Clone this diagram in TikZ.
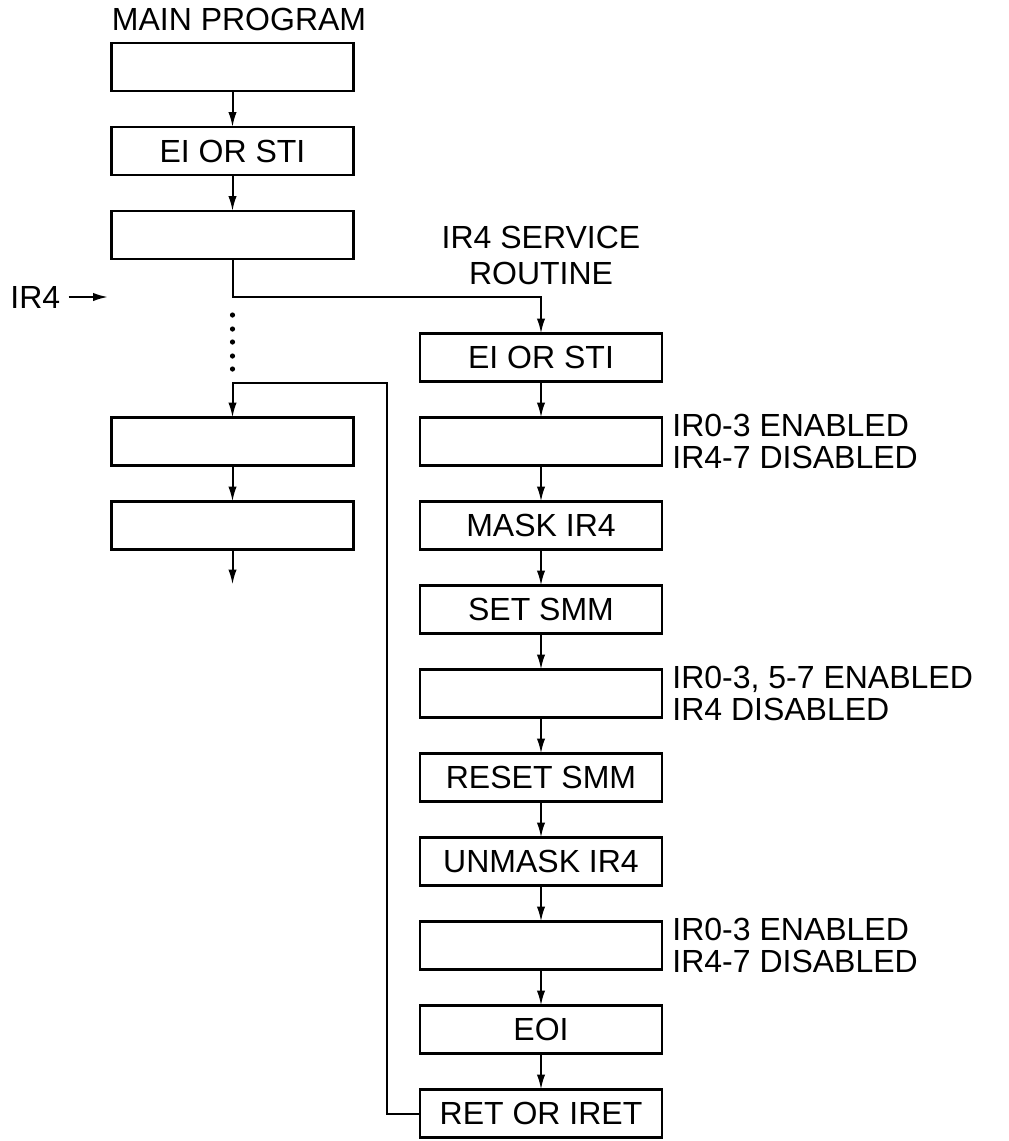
\documentclass[tikz,border=0pt]{standalone}
\usepackage{fontspec}
\setmainfont{Liberation Sans}
\usetikzlibrary{arrows.meta,positioning,calc}

\begin{document}
\begin{tikzpicture}[
  x=0.5pt,y=-0.5pt,
  font=\fontsize{16pt}{16pt}\selectfont,
  node distance=18pt and 5pt,
  box/.style={draw,line width=1.2pt,minimum width=121pt,minimum height=24pt,
    inner sep=0pt,outer sep=0pt,align=center},
  note/.style={align=left,inner sep=0pt},
  arrow/.style={-{Latex[length=7.5pt,width=4.2pt]},line width=1pt}
]
\useasboundingbox (0,0) rectangle (1008,1141);

% main program
\node[box] (m1) at (232.5,67) {};
\node[box,below=of m1] (m2) {EI OR STI};
\node[box,below=of m2] (m3) {};
\node[box] (m4) at (232.5,441.5) {};
\node[box,below=of m4] (m5) {};
\node[inner sep=0pt,above right=6pt and 0pt of m1.north west] (mainlbl) {MAIN PROGRAM};

% interrupt request
\node[inner sep=0pt,anchor=west] (irq) at (10,297) {IR4};
\coordinate (irqtip) at (108,297);

% service routine
\node[box] (s1) at (541,357.5) {EI OR STI};
\node[box,below=of s1] (s2) {};
\node[box,below=of s2] (s3) {MASK IR4};
\node[box,below=of s3] (s4) {SET SMM};
\node[box,below=of s4] (s5) {};
\node[box,below=of s5] (s6) {RESET SMM};
\node[box,below=of s6] (s7) {UNMASK IR4};
\node[box,below=of s7] (s8) {};
\node[box,below=of s8] (s9) {EOI};
\node[box,below=of s9] (s10) {RET OR IRET};
\node[align=center,inner sep=0pt,font=\fontsize{16pt}{18pt}\selectfont,
  above=24pt of s1] (srvlbl) {IR4 SERVICE\\ROUTINE};

% mask states
\node[note,right=of s2] (n2) {IR0-3 ENABLED\\IR4-7 DISABLED};
\node[note,right=of s5] (n5) {IR0-3, 5-7 ENABLED\\IR4 DISABLED};
\node[note,right=of s8] (n8) {IR0-3 ENABLED\\IR4-7 DISABLED};

% helper points
\coordinate (fork) at ($(m3.south)+(0,38)$);
\coordinate (back) at ($(m4.north)+(154.5,-34.5)$);
\coordinate (mout) at ($(m5.south)+(0,35)$);

\draw[arrow] ([xshift=4pt]irq.east) -- (irqtip);
\draw[arrow] (m1) -- (m2);
\draw[arrow] (m2) -- (m3);
\draw[arrow] (m3.south) -- (fork) -| (s1.north);
\foreach \d in {56,70,83,97,110}
  \fill ($(m3.south)+(0,\d)$) circle (1.3pt);
\draw[arrow] (m4) -- (m5);
\draw[arrow] (m5) -- (mout);

\draw[arrow] (s1) -- (s2);
\draw[arrow] (s2) -- (s3);
\draw[arrow] (s3) -- (s4);
\draw[arrow] (s4) -- (s5);
\draw[arrow] (s5) -- (s6);
\draw[arrow] (s6) -- (s7);
\draw[arrow] (s7) -- (s8);
\draw[arrow] (s8) -- (s9);
\draw[arrow] (s9) -- (s10);
\draw[arrow] (s10.west) -| (back) -| (m4.north);
\end{tikzpicture}
\end{document}
